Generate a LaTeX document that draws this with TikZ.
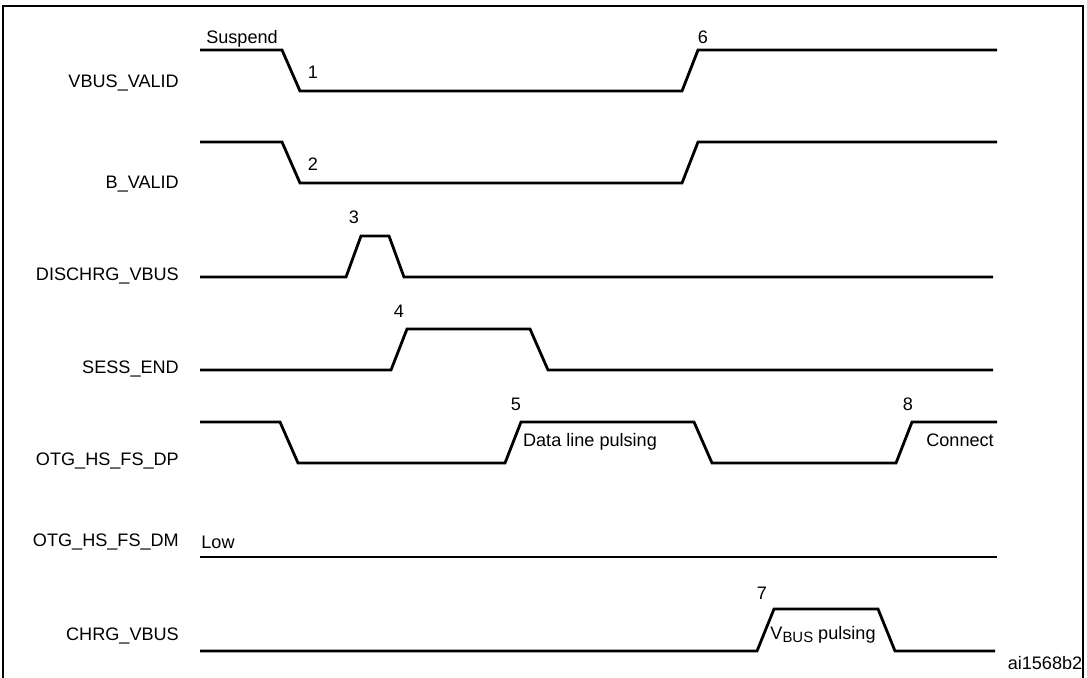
\documentclass[tikz,border=0pt]{standalone}
\usepackage{fontspec}
\setmainfont{Liberation Sans}
\begin{document}
\begin{tikzpicture}[x=0.02cm, y=-0.02cm, font=\fontsize{10.3}{12}\selectfont,
    wave/.style={line width=1.6pt, line join=miter},
    sig/.style={anchor=east},
    evt/.style={anchor=base}]
				\useasboundingbox (0,0) rectangle (1087,677);
				%frame
				\draw[line width=1.4pt] (3,680) -- (3,6) -- (1083,6) -- (1083,680);
				
				%signal names
				\node[sig] (vbv) at (185,83) {VBUS\_VALID};
				\node[sig] (bv) at (185,184) {B\_VALID};
				\node[sig] (dis) at (185,276) {DISCHRG\_VBUS};
				\node[sig] (se) at (185,369) {SESS\_END};
				\node[sig] (dp) at (185,461) {OTG\_HS\_FS\_DP};
				\node[sig] (dm) at (185,542) {OTG\_HS\_FS\_DM};
				\node[sig] (chg) at (185,636) {CHRG\_VBUS};
				
				%waveforms
				\draw[wave] (200,50) -- (282,50) -- (300,91) -- (682,91) -- (698,50) -- (997,50);
				\draw[wave] (200,142) -- (282,142) -- (300,183) -- (682,183) -- (698,142) -- (997,142);
				\draw[wave] (200,277) -- (346,277) -- (361,236) -- (389,236) -- (404,277) -- (993,277);
				\draw[wave] (200,370) -- (391,370) -- (407,329) -- (530,329) -- (548,370) -- (993,370);
				\draw[wave] (200,422) -- (280,422) -- (298,463) -- (505,463) -- (521,422) -- (694,422)
					-- (712,463) -- (896,463) -- (912,422) -- (997,422);
				\draw[wave] (200,557) -- (997,557);
				\draw[wave] (200,651) -- (757,651) -- (774,609) -- (878,609) -- (895,651) -- (995,651);
				
				%event labels
				\node[evt] (susp) at (242,43) {Suspend};
				\node[evt] (e1) at (313,78) {1};
				\node[evt] (e6) at (703,43) {6};
				\node[evt] (e2) at (313,170) {2};
				\node[evt] (e3) at (354,223) {3};
				\node[evt] (e4) at (399,317) {4};
				\node[evt] (e5) at (516,410) {5};
				\node[evt] (dlp) at (590,446) {Data line pulsing};
				\node[evt] (e8) at (908,410) {8};
				\node[evt] (conn) at (960,446) {Connect};
				\node[evt] (low) at (218,548) {Low};
				\node[evt] (e7) at (762,599) {7};
				\node[evt] (vbp) at (823,639) {V\raisebox{-0.4ex}{\fontsize{8.5}{9}\selectfont BUS} pulsing};
				\node[evt] (id) at (1045,669) {ai1568b2};
			\end{tikzpicture}
\end{document}
